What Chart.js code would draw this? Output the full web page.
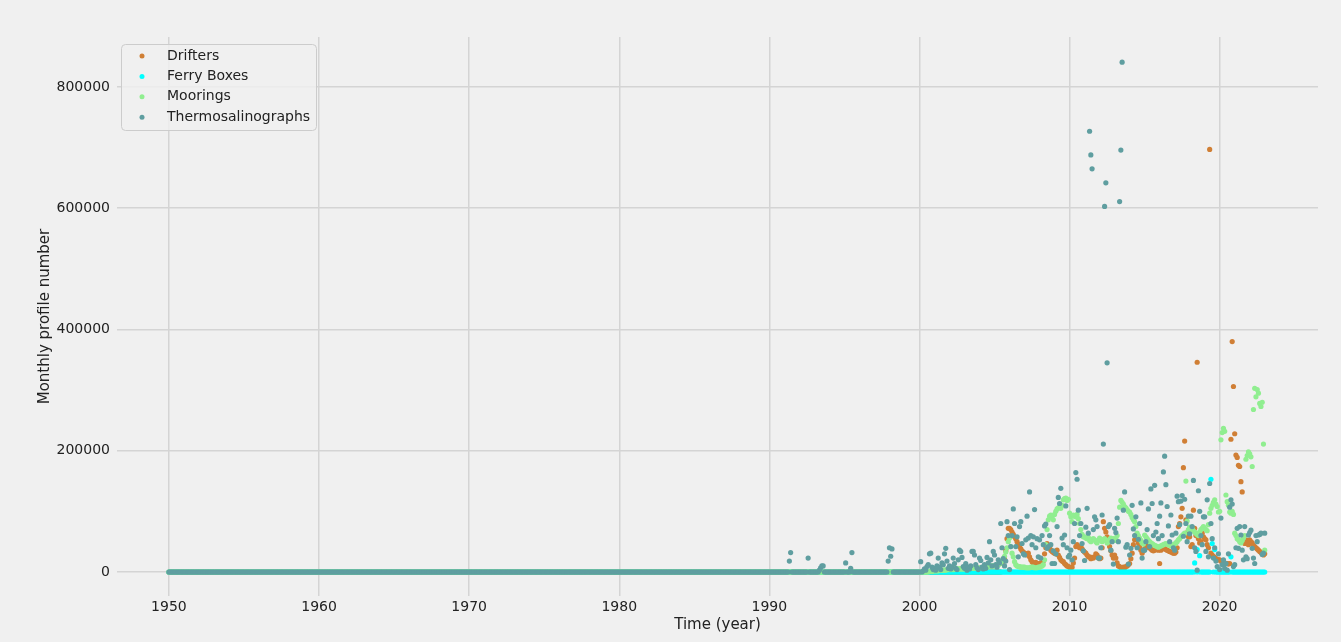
<!DOCTYPE html>
<html>
<head>
<meta charset="utf-8">
<title>Monthly profile number</title>
<script src="https://cdn.jsdelivr.net/npm/chart.js@4/dist/chart.umd.min.js"></script>
<style>
  html, body { margin: 0; padding: 0; background: #f0f0f0; }
  #c { display: block; }
</style>
</head>
<body>
<canvas id="c" width="1341" height="642"></canvas>
<script>
// Monthly series start in January 1950; values are profiles per month, in thousands.
const startYear = 1950;

const seriesNames = ['Drifters', 'Ferry Boxes', 'Moorings', 'Thermosalinographs'];
const seriesColors = ['#d07f35', '#00ffff', '#90ee90', '#5f9ea0'];

const xTickYears = [1950, 1960, 1970, 1980, 1990, 2000, 2010, 2020];
const yTickValues = [0, 200000, 400000, 600000, 800000];

// 1950-1989: no platform reports any profile.
const quiet1950to1989 = [
  [0,0,0,0,0,0,0,0,0,0,0,0],[0,0,0,0,0,0,0,0,0,0,0,0],[0,0,0,0,0,0,0,0,0,0,0,0],[0,0,0,0,0,0,0,0,0,0,0,0],
  [0,0,0,0,0,0,0,0,0,0,0,0],[0,0,0,0,0,0,0,0,0,0,0,0],[0,0,0,0,0,0,0,0,0,0,0,0],[0,0,0,0,0,0,0,0,0,0,0,0],
  [0,0,0,0,0,0,0,0,0,0,0,0],[0,0,0,0,0,0,0,0,0,0,0,0],[0,0,0,0,0,0,0,0,0,0,0,0],[0,0,0,0,0,0,0,0,0,0,0,0],
  [0,0,0,0,0,0,0,0,0,0,0,0],[0,0,0,0,0,0,0,0,0,0,0,0],[0,0,0,0,0,0,0,0,0,0,0,0],[0,0,0,0,0,0,0,0,0,0,0,0],
  [0,0,0,0,0,0,0,0,0,0,0,0],[0,0,0,0,0,0,0,0,0,0,0,0],[0,0,0,0,0,0,0,0,0,0,0,0],[0,0,0,0,0,0,0,0,0,0,0,0],
  [0,0,0,0,0,0,0,0,0,0,0,0],[0,0,0,0,0,0,0,0,0,0,0,0],[0,0,0,0,0,0,0,0,0,0,0,0],[0,0,0,0,0,0,0,0,0,0,0,0],
  [0,0,0,0,0,0,0,0,0,0,0,0],[0,0,0,0,0,0,0,0,0,0,0,0],[0,0,0,0,0,0,0,0,0,0,0,0],[0,0,0,0,0,0,0,0,0,0,0,0],
  [0,0,0,0,0,0,0,0,0,0,0,0],[0,0,0,0,0,0,0,0,0,0,0,0],[0,0,0,0,0,0,0,0,0,0,0,0],[0,0,0,0,0,0,0,0,0,0,0,0],
  [0,0,0,0,0,0,0,0,0,0,0,0],[0,0,0,0,0,0,0,0,0,0,0,0],[0,0,0,0,0,0,0,0,0,0,0,0],[0,0,0,0,0,0,0,0,0,0,0,0],
  [0,0,0,0,0,0,0,0,0,0,0,0],[0,0,0,0,0,0,0,0,0,0,0,0],[0,0,0,0,0,0,0,0,0,0,0,0],[0,0,0,0,0,0,0,0,0,0,0,0]
];

// 1990 onwards, one row per year (the last row is January 2023).
const driftersK = [
  [0,0,0,0,0,0,0,0,0,0,0,0], // 1990
  [0,0,0,0,0,0,0,0,0,0,0,0],
  [0,0,0,0,0,0,0,0,0,0,0,0],
  [0,0,0,0,0,0,0,0,0,0,0,0],
  [0,0,0,0,0,0,0,0,0,0,0,0],
  [0,0,0,0,0,0,0,0,0,0,0,0], // 1995
  [0,0,0,0,0,0,0,0,0,0,0,0],
  [0,0,0,0,0,0,0,0,0,0,0,0],
  [0,0,0,0,0,0,0,0,0,0,0,0],
  [0,0,0,0,0,0,0,0,0,0,0,0],
  [0,0,0,0,0,0,0,0,0,0,0,0], // 2000
  [0,0,0,0,0,0,0,0,0,0,0,0],
  [0,0,0,0,0,0,0,0,0,0,0,0],
  [0,0,0,0,0,0,0,0,0,0,0,0],
  [0,0,0,0,0,0,0,0,0,0,0,0],
  [0,0,0,0,0,0,14,18,22,35,55,72], // 2005
  [72,70,66,62,58,55,50,46,42,38,35,33],
  [31,30,28,31,25,20,17,15,14,16,14,13],
  [14,15,12,18,30,40,47,44,40,36,34,32],
  [31,30,36,28,24,20,18,17,14,12,10,9],
  [8,6,8,15,23,42,45,42,40,42,38,35], // 2010
  [33,31,28,25,25,22,24,23,25,30,28,24],
  [22,23,40,83,72,66,58,50,42,35,28,23],
  [28,23,15,10,9,7,6,8,7,9,10,12],
  [14,22,31,45,53,61,57,48,42,36,31,35],
  [38,40,42,44,40,38,36,35,36,38,37,36], // 2015
  [14,36,38,40,39,37,36,35,34,33,32,31],
  [31,33,40,75,80,91,105,172,216,86,65,58],
  [58,42,45,102,72,60,346,55,48,50,64,58],
  [55,53,45,40,697,31,28,26,24,22,21,20],
  [20,18,17,16,15,14,14,13,14,219,380,306], // 2020
  [228,193,189,176,174,149,132,50,47,53,50,45],
  [53,50,48,44,42,40,38,36,34,32,30,28],
  [30] // 2023
];

const ferryBoxesK = [
  [0,0,0,0,0,0,0,0,0,0,0,0], // 1990
  [0,0,0,0,0,0,0,0,0,0,0,0],
  [0,0,0,0,0,0,0,0,0,0,0,0],
  [0,0,0,0,0,0,0,0,0,0,0,0],
  [0,0,0,0,0,0,0,0,0,0,0,0],
  [0,0,0,0,0,0,0,0,0,0,0,0], // 1995
  [0,0,0,0,0,0,0,0,0,0,0,0],
  [0,0,0,0,0,0,0,0,0,0,0,0],
  [0,0,0,0,0,0,0,0,0,0,0,0],
  [0,0,0,0,0,0,0,0,0,0,0,0],
  [0,0,0,0,0,0,0,0,0,0,0,0], // 2000
  [0,0,0,0,0,0,0,0,0,0,0,0],
  [0,0,0,0,0,0,0,0,0,0,0,0],
  [0,0,0,0,0,0,0,0,0,0,0,0],
  [0,0,0,0,0,0,0,0,0,0,0,0],
  [0,0,0,0,0,0,0,0,0,0,0,0], // 2005
  [0,0,0,0,0,0,0,0,0,0,0,0],
  [0,0,0,0,0,0,0,0,0,0,0,0],
  [0,0,0,0,0,0,0,0,0,0,0,0],
  [0,0,0,0,0,0,0,0,0,0,0,0],
  [0,0,0,0,0,0,0,0,0,0,0,0], // 2010
  [0,0,0,0,0,0,0,0,0,0,0,0],
  [0,0,0,0,0,0,0,0,0,0,0,0],
  [0,0,0,0,0,0,0,0,0,0,0,0],
  [0,0,0,0,0,0,0,0,0,0,0,0],
  [0,0,0,0,0,0,0,0,0,0,0,0], // 2015
  [0,0,0,0,0,0,0,0,0,0,0,0],
  [0,0,0,0,0,0,0,0,0,0,0,0],
  [0,0,0,0,15,0,37,0,27,0,0,0],
  [0,0,0,0,0,153,47,0,37,0,0,0],
  [0,0,0,0,0,0,0,0,0,25,0,0], // 2020
  [0,0,0,0,0,0,0,0,0,0,0,0],
  [0,0,0,0,0,0,0,0,0,0,0,0],
  [0] // 2023
];

const mooringsK = [
  [0,0,0,0,0,0,0,0,0,0,0,0], // 1990
  [0,0,0,0,0,0,0,0,0,0,0,0],
  [0,0,0,0,0,0,0,0,0,0,0,0],
  [0,0,0,0,0,0,0,0,0,0,0,0],
  [0,0,0,0,0,0,0,0,0,0,0,0],
  [0,0,0,0,0,0,0,0,0,0,0,0], // 1995
  [0,0,0,0,0,0,0,0,0,0,0,0],
  [0,0,0,0,0,0,0,0,0,0,0,0],
  [0,0,0,0,0,0,0,0,0,0,0,0],
  [0,0,0,0,0,0,0,0,0,0,0,0],
  [0,0,0,0,0,0,0,0,1,1,1,2], // 2000
  [2,2,2,2,3,3,3,3,3,3,4,4],
  [4,4,4,4,4,5,5,5,5,5,5,5],
  [5,5,5,6,6,6,6,6,6,6,7,7],
  [7,7,7,7,8,8,8,9,9,10,10,10],
  [10,11,12,12,13,15,18,22,26,33,40,50], // 2005
  [56,42,31,25,17,12,10,9,9,8,8,8],
  [8,7,7,7,7,8,8,8,7,7,7,8],
  [8,9,10,12,20,45,70,86,92,94,90,86],
  [95,100,104,106,107,105,110,119,121,122,118,120],
  [97,91,83,94,92,91,95,88,80,70,62,58], // 2010
  [58,56,55,57,52,50,54,55,53,50,48,52],
  [56,54,50,53,55,52,48,50,54,56,52,55],
  [52,55,60,80,107,118,115,112,108,106,103,100],
  [99,95,90,86,83,75,64,60,56,52,48,46],
  [61,58,55,52,50,48,47,45,44,43,42,41], // 2015
  [42,43,44,45,46,47,46,45,44,43,44,45],
  [46,48,50,53,55,58,60,62,64,150,84,70],
  [74,70,72,68,66,64,62,60,66,70,72,75],
  [72,70,68,78,97,105,110,115,119,112,108,99],
  [100,218,230,237,232,127,116,110,99,97,100,95], // 2020
  [64,60,55,53,50,48,52,56,60,186,192,198],
  [195,190,174,268,303,289,301,295,278,273,280,211],
  [36] // 2023
];

const thermosalinographsK = [
  [0,0,0,0,0,0,0,0,0,0,0,0], // 1990
  [0,0,0,0,18,32,0,0,0,0,0,0],
  [0,0,0,0,0,0,0,23,0,0,0,0],
  [0,0,0,0,3,7,10,10,0,0,0,0],
  [0,0,0,0,0,0,0,0,0,0,0,0],
  [0,15,0,0,0,6,32,0,0,0,0,0], // 1995
  [0,0,0,0,0,0,0,0,0,0,0,0],
  [0,0,0,0,0,0,0,0,0,0,0,18],
  [40,26,38,0,0,0,0,0,0,0,0,0],
  [0,0,0,0,0,0,0,0,0,0,0,0],
  [0,17,0,2,5,3,9,12,30,31,8,4], // 2000
  [6,3,10,23,8,4,15,12,30,39,18,6],
  [10,5,8,23,14,6,4,20,36,34,24,9],
  [6,14,3,8,5,10,34,34,28,12,7,4],
  [23,19,8,5,12,6,24,15,50,20,10,34],
  [28,12,8,20,15,80,40,22,10,18,83,60], // 2005
  [4,42,60,104,80,42,58,25,75,83,47,30],
  [28,53,92,56,132,60,45,58,103,40,55,25],
  [53,23,60,45,76,79,39,42,60,45,14,35],
  [14,30,75,123,113,138,56,45,61,109,40,25],
  [28,36,20,50,80,164,153,102,60,80,47,35], // 2010
  [19,74,105,64,727,688,665,70,91,86,75,23],
  [23,40,94,211,603,642,345,75,78,36,50,13],
  [72,65,89,50,611,696,841,102,132,41,45,13],
  [28,39,110,71,60,91,40,54,80,114,23,36],
  [36,50,70,104,42,137,113,60,143,66,80,55], // 2015
  [92,114,60,165,191,144,108,76,50,94,61,40],
  [36,64,125,116,78,117,126,59,120,80,50,92],
  [63,92,75,151,40,34,3,134,100,60,45,91],
  [91,34,119,25,146,80,55,23,40,18,9,30],
  [4,89,12,20,6,14,3,30,107,119,112,9], // 2020
  [12,40,72,39,75,61,36,20,75,25,22,61],
  [65,69,39,23,14,60,50,61,62,64,29,31],
  [64] // 2023
];

// Turn yearly rows into {x: decimal year, y: profiles} points.
function monthlyPoints(rows) {
  const values = quiet1950to1989.concat(rows).flat();
  return values.map((v, i) => ({ x: startYear + i / 12, y: v * 1000 }));
}

const seriesRows = [driftersK, ferryBoxesK, mooringsK, thermosalinographsK];

const FONT = 'DejaVu Sans';
const TEXT = '#222222';
const GRID = '#d4d4d4';

// Whole-canvas background.
const backdrop = {
  id: 'backdrop',
  beforeDraw(chart) {
    const { ctx, width, height } = chart;
    ctx.save();
    ctx.fillStyle = '#f0f0f0';
    ctx.fillRect(0, 0, width, height);
    ctx.restore();
  }
};

// Framed legend in the upper-left corner of the plot area.
const cornerLegend = {
  id: 'cornerLegend',
  afterDraw(chart) {
    const ctx = chart.ctx;
    const area = chart.chartArea;
    const x0 = area.left + 4.5, y0 = area.top + 7.5, w = 195, h = 86, r = 4;
    ctx.save();
    ctx.beginPath();
    ctx.moveTo(x0 + r, y0);
    ctx.lineTo(x0 + w - r, y0);
    ctx.arcTo(x0 + w, y0, x0 + w, y0 + r, r);
    ctx.lineTo(x0 + w, y0 + h - r);
    ctx.arcTo(x0 + w, y0 + h, x0 + w - r, y0 + h, r);
    ctx.lineTo(x0 + r, y0 + h);
    ctx.arcTo(x0, y0 + h, x0, y0 + h - r, r);
    ctx.lineTo(x0, y0 + r);
    ctx.arcTo(x0, y0, x0 + r, y0, r);
    ctx.closePath();
    ctx.fillStyle = 'rgba(240,240,240,0.8)';
    ctx.fill();
    ctx.strokeStyle = '#cccccc';
    ctx.lineWidth = 1;
    ctx.stroke();
    ctx.font = '14px "' + FONT + '"';
    ctx.textBaseline = 'middle';
    ctx.textAlign = 'left';
    chart.data.datasets.forEach((ds, i) => {
      const y = y0 + 11.5 + i * 20.4;
      ctx.beginPath();
      ctx.arc(x0 + 20.5, y, 2.5, 0, Math.PI * 2);
      ctx.fillStyle = ds.backgroundColor;
      ctx.fill();
      ctx.fillStyle = TEXT;
      ctx.fillText(ds.label, x0 + 45.5, y);
    });
    ctx.restore();
  }
};

const datasets = seriesNames.map((name, i) => ({
  label: name,
  data: monthlyPoints(seriesRows[i]),
  backgroundColor: seriesColors[i],
  borderColor: seriesColors[i],
  borderWidth: 0,
  pointRadius: 2.6,
  pointHoverRadius: 2.6,
  pointBorderWidth: 0,
  showLine: false,
  order: seriesNames.length - i
}));

new Chart(document.getElementById('c'), {
  type: 'scatter',
  data: { datasets },
  plugins: [backdrop, cornerLegend],
  options: {
    responsive: false,
    devicePixelRatio: 1,
    animation: false,
    events: [],
    layout: { padding: { left: 0, top: 37, right: 23, bottom: 0 } },
    plugins: {
      legend: { display: false },
      tooltip: { enabled: false }
    },
    scales: {
      x: {
        type: 'linear',
        min: 1946.54,
        max: 2026.55,
        afterBuildTicks(scale) { scale.ticks = xTickYears.map(v => ({ value: v })); },
        afterFit(scale) { scale.height = 46; },
        ticks: {
          callback: v => String(v),
          font: { family: FONT, size: 14 },
          color: TEXT,
          padding: 3,
          maxRotation: 0,
          autoSkip: false
        },
        grid: { color: GRID, lineWidth: 1.5, drawTicks: false },
        border: { display: false },
        title: {
          display: true,
          text: 'Time (year)',
          font: { family: FONT, size: 15 },
          color: TEXT,
          padding: { top: 0, bottom: 8 }
        }
      },
      y: {
        type: 'linear',
        min: -39590,
        max: 882470,
        afterBuildTicks(scale) { scale.ticks = yTickValues.map(v => ({ value: v })); },
        afterFit(scale) { scale.width = 117; },
        ticks: {
          callback: v => String(v),
          font: { family: FONT, size: 14 },
          color: TEXT,
          padding: 7,
          autoSkip: false
        },
        grid: { color: GRID, lineWidth: 1.5, drawTicks: false },
        border: { display: false },
        title: {
          display: true,
          text: 'Monthly profile number',
          font: { family: FONT, size: 15 },
          color: TEXT,
          padding: { top: 36, bottom: 0 }
        }
      }
    }
  }
});
</script>
</body>
</html>
